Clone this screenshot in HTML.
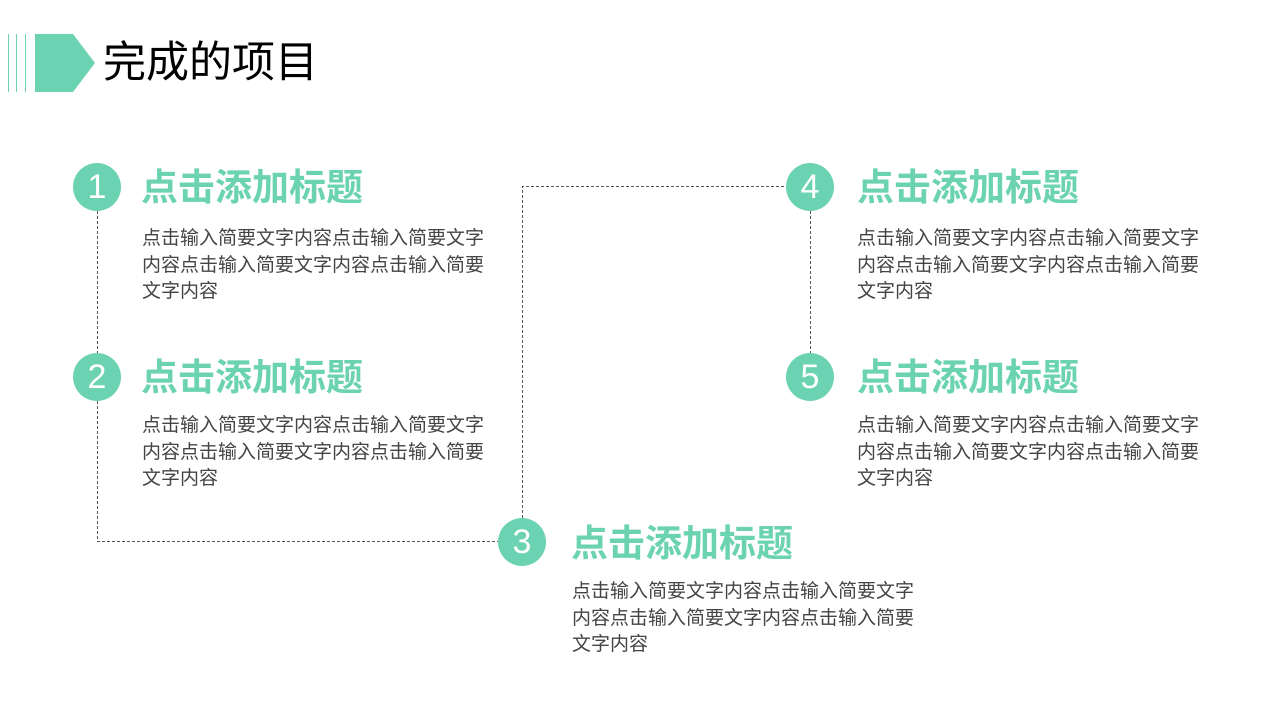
<!DOCTYPE html>
<html><head><meta charset="utf-8"><style>
body{margin:0;width:1280px;height:720px;background:#fff;position:relative;overflow:hidden;font-family:"Liberation Sans","Noto Sans CJK SC",sans-serif}
.a{position:absolute}
.c{position:absolute;width:48px;height:48px;border-radius:50%;background:#6bd3b1;color:#fff;font-size:34px;line-height:48px;text-align:center}
.t{position:absolute;color:#6bd3b1;font-weight:bold;font-size:37px;line-height:42px;white-space:nowrap}
.b{position:absolute;color:#444;font-size:19px;line-height:26.5px;width:346px}
</style></head><body>
<div class="a" style="left:8px;top:34px;width:1px;height:58px;background:#6bd3b1"></div>
<div class="a" style="left:16px;top:34px;width:1px;height:58px;background:#6bd3b1"></div>
<div class="a" style="left:25px;top:34px;width:1px;height:58px;background:#6bd3b1"></div>
<svg class="a" style="left:0;top:0" width="1280" height="720">
<polygon points="35,34 73,34 95,63 73,92 35,92" fill="#6bd3b1"/>
<g stroke="#555" stroke-width="1" stroke-dasharray="3,2" fill="none">
<polyline points="97.5,211 97.5,541.5 498,541.5"/>
<polyline points="522.5,518 522.5,186.5 786,186.5"/>
<line x1="810.5" y1="211" x2="810.5" y2="353"/>
</g></svg>
<div class="a" style="left:103px;top:38px;font-size:43px;line-height:50px;color:#000">完成的项目</div>

<div class="c" style="left:73px;top:163px">1</div>
<div class="t" style="left:141px;top:167px">点击添加标题</div>
<div class="b" style="left:142px;top:226px">点击输入简要文字内容点击输入简要文字内容点击输入简要文字内容点击输入简要文字内容</div>

<div class="c" style="left:73px;top:353px">2</div>
<div class="t" style="left:141px;top:357px">点击添加标题</div>
<div class="b" style="left:142px;top:413px">点击输入简要文字内容点击输入简要文字内容点击输入简要文字内容点击输入简要文字内容</div>

<div class="c" style="left:498px;top:518px">3</div>
<div class="t" style="left:571px;top:523px">点击添加标题</div>
<div class="b" style="left:572px;top:579px">点击输入简要文字内容点击输入简要文字内容点击输入简要文字内容点击输入简要文字内容</div>

<div class="c" style="left:786px;top:163px">4</div>
<div class="t" style="left:857px;top:167px">点击添加标题</div>
<div class="b" style="left:857px;top:226px">点击输入简要文字内容点击输入简要文字内容点击输入简要文字内容点击输入简要文字内容</div>

<div class="c" style="left:786px;top:353px">5</div>
<div class="t" style="left:857px;top:357px">点击添加标题</div>
<div class="b" style="left:857px;top:413px">点击输入简要文字内容点击输入简要文字内容点击输入简要文字内容点击输入简要文字内容</div>
</body></html>
